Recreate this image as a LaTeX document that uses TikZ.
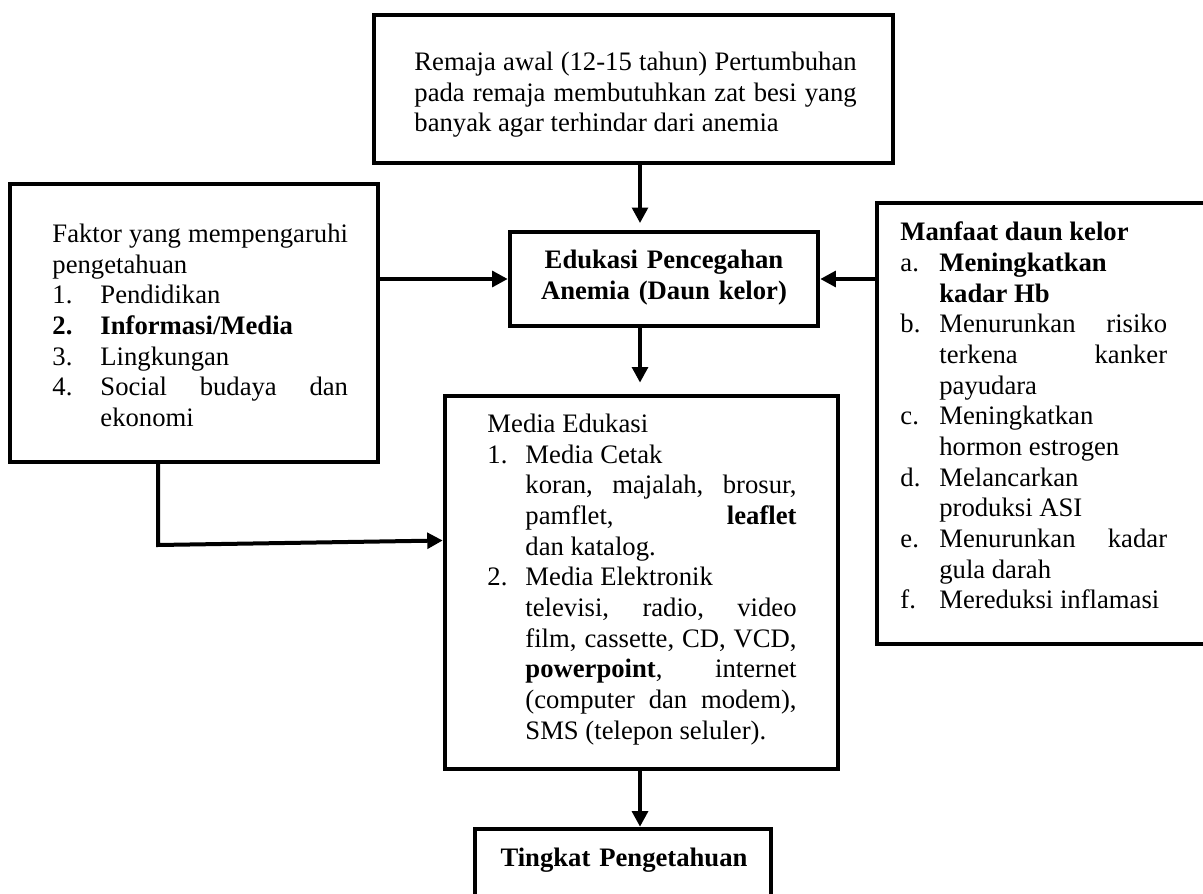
\documentclass[tikz,border=0pt]{standalone}
\usepackage{fontspec}
\setmainfont{Liberation Serif}
\usepackage{xcolor}
\usepackage{tikz}
\usetikzlibrary{arrows.meta,fit,calc}
\definecolor{ink}{HTML}{000000}
\hyphenpenalty=10000
\exhyphenpenalty=10000
\tolerance=10000
\newcommand{\body}{\fontsize{12pt}{13.8pt}\selectfont}
% one list entry: hanging indent, label, text
\newcommand{\entry}[3]{\par\hangindent=#1\hangafter=1\noindent\makebox[#1][l]{#2}#3\par}
\tikzset{
  box/.style={draw=ink, line width=2pt, inner sep=0pt},
  arr/.style={draw=ink, line width=1.8pt, -{Triangle[length=7pt,width=7pt]}},
  txt/.style={anchor=north west, inner sep=0pt, align=justify, font=\body, text=ink},
  head/.style={anchor=north, inner sep=0pt, align=center, font=\body\bfseries, text=ink, text width=125pt}
}
\begin{document}
\begin{tikzpicture}[x=0.45pt, y=-0.45pt]
  \fill[white] (0,0) rectangle (1203,894);
  \useasboundingbox (0,0) rectangle (1203,894);

  % boxes
  \node[box, fit={(374,15) (893,163)}] (remaja) {};
  \node[box, fit={(10,184) (378,462)}] (faktor) {};
  \node[box, fit={(510,232) (818,326)}] (edu) {};
  \node[box, fit={(877,203) (1225,644)}] (manfaat) {};
  \node[box, fit={(445,396) (838,769)}] (media) {};
  \node[box, fit={(475,829) (771,915)}] (tingkat) {};

  % texts
  \node[txt, text width=199pt] (remajatxt) at (414,48.5) {\noindent\strut Remaja awal (12-15 tahun) Pertumbuhan\linebreak pada remaja membutuhkan zat besi yang\linebreak banyak agar terhindar dari anemia};

  \node[txt, text width=133pt] (faktortxt) at (52,220.5) {\noindent\strut Faktor yang mempengaruhi\linebreak pengetahuan
    \entry{21.6pt}{1.}{Pendidikan}
    \entry{21.6pt}{\textbf{2.}}{\textbf{Informasi/Media}}
    \entry{21.6pt}{3.}{Lingkungan}
    \entry{21.6pt}{4.}{Social budaya dan\linebreak ekonomi}};

  \node[head] (edutxt) at (664,246.5) {\strut Edukasi Pencegahan\\Anemia (Daun kelor)};

  \node[txt, text width=120pt] (manfaattxt) at (900,219) {\noindent\strut\textbf{Manfaat daun kelor}
    \entry{17.5pt}{a.}{\textbf{Meningkatkan\newline kadar Hb}}
    \entry{17.5pt}{b.}{Menurunkan risiko\linebreak terkena kanker\linebreak payudara}
    \entry{17.5pt}{c.}{Meningkatkan\newline hormon estrogen}
    \entry{17.5pt}{d.}{Melancarkan\newline produksi ASI}
    \entry{17.5pt}{e.}{Menurunkan kadar\linebreak gula darah}
    \entry{17.5pt}{f.}{Mereduksi inflamasi}};

  \node[txt, text width=139.1pt] (mediatxt) at (487,410.5) {\noindent\strut Media Edukasi
    \entry{17.1pt}{1.}{Media Cetak\newline koran, majalah, brosur,\linebreak pamflet, \textbf{leaflet}\linebreak dan katalog.}
    \entry{17.1pt}{2.}{Media Elektronik\newline televisi, radio, video\linebreak film, cassette, CD, VCD,\linebreak \textbf{powerpoint}, internet\linebreak (computer dan modem),\linebreak SMS (telepon seluler).}};

  \node[head] (tingkattxt) at (624,844.5) {\strut Tingkat Pengetahuan};

  % connectors
  \coordinate (axis) at (640,0);
  \coordinate (bend) at (158,545);
  \draw[arr, shorten >=3pt] (remaja.south -| axis) -- (edu.north -| axis);
  \draw[arr] (faktor.east |- edu.west) -- (edu.west);
  \draw[arr] (manfaat.west |- edu.east) -- (edu.east);
  \draw[arr, shorten >=5pt] (edu.south -| axis) -- (media.north -| axis);
  \draw[arr] (media.south -| axis) -- (tingkat.north -| axis);
  \draw[arr] (faktor.south -| bend) -- (bend) -- ($(media.west)+(0,-42)$);
\end{tikzpicture}
\end{document}
